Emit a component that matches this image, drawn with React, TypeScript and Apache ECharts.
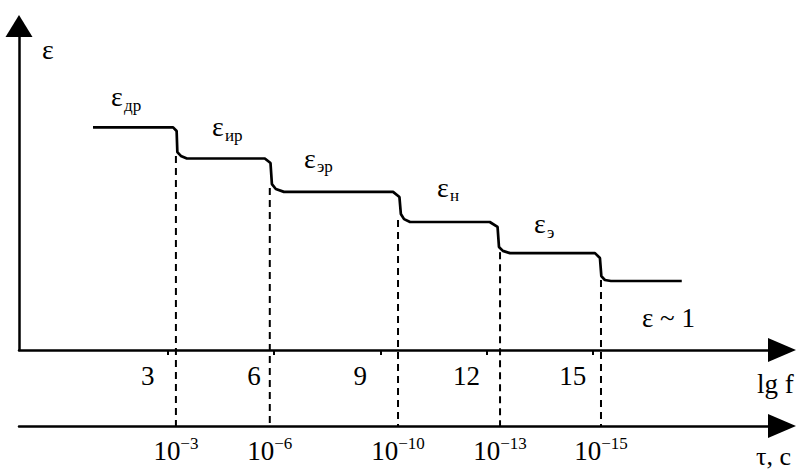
import React, { useEffect, useRef } from "react";
import * as echarts from "echarts";

// lg f axis tick values
const lgTicks = [3, 6, 9, 12, 15];
// relaxation boundaries (lg f positions of dashed lines) and τ labels
const tauPositions = [3.23, 5.88, 9.5, 12.38, 15.23];
const tauExponents = ["−3", "−6", "−10", "−13", "−15"];
// ε(lg f) step curve
const curveLg = [0.89, 3.15, 3.25, 3.27, 3.37, 3.54, 5.74, 5.9, 5.94, 6.05, 6.28, 9.36, 9.54, 9.58, 9.67, 9.84, 12.09, 12.31, 12.35, 12.46, 12.66, 15.06, 15.2, 15.24, 15.34, 15.51, 17.51];
const curveEps = [6.87, 6.87, 6.76, 6.11, 5.99, 5.91, 5.91, 5.77, 5.12, 4.97, 4.88, 4.88, 4.72, 4.2, 4.04, 3.95, 3.95, 3.8, 3.18, 3.06, 2.99, 2.99, 2.84, 2.28, 2.16, 2.13, 2.13];
// ε where each dashed line starts (bottom of each step)
const dashTopEps = [5.99, 5.0, 4.01, 3.02, 2.16];

const SERIF = '"Liberation Serif", "Times New Roman", serif';
const TAU_AXIS_EPS = -2.35;

function txt(text: string, x: number, baseline: number, fs: number) {
  return {
    type: "text",
    x,
    y: baseline - 0.3375 * fs,
    z: 10,
    style: {
      text,
      fontSize: fs,
      fontFamily: SERIF,
      fill: "#000",
      textAlign: "left",
      textVerticalAlign: "middle",
    },
  };
}

export default function App() {
  const ref = useRef<HTMLDivElement>(null);
  useEffect(() => {
    if (!ref.current) return;
    const chart = echarts.init(ref.current, undefined, { renderer: "svg" });
    const curve = curveLg.map((x, i) => [x, curveEps[i]]);
    const dashSeries = tauPositions.map((x, i) => ({
      type: "line",
      data: [
        [x, dashTopEps[i]],
        [x, TAU_AXIS_EPS],
      ],
      symbol: "none",
      clip: false,
      lineStyle: { color: "#000", width: 2, type: [7, 5] },
      z: 3,
    }));
    const xBase = {
      type: "value",
      min: -1.2,
      max: 20.34,
      position: "bottom",
      splitLine: { show: false },
    };
    const option: any = {
      animation: false,
      grid: { left: 19, right: 17, top: 26, bottom: 124, containLabel: false },
      xAxis: [
        {
          ...xBase,
          axisLine: {
            onZero: false,
            symbol: ["none", "triangle"],
            symbolSize: [24, 28],
            lineStyle: { color: "#000", width: 2.5 },
          },
          axisTick: { show: true, customValues: lgTicks, length: 5, lineStyle: { color: "#000", width: 2 } },
          axisLabel: {
            customValues: lgTicks,
            formatter: (v: number) => String(v),
            fontSize: 27,
            fontFamily: SERIF,
            color: "#000",
            margin: 12,
            padding: [0, 40, 0, 0],
          },
        },
        {
          ...xBase,
          offset: 76,
          axisLine: {
            onZero: false,
            symbol: ["none", "triangle"],
            symbolSize: [24, 28],
            lineStyle: { color: "#000", width: 2.5 },
          },
          axisTick: { show: false },
          axisLabel: {
            customValues: tauPositions,
            margin: 9,
            formatter: (v: number) => {
              let best = 0;
              tauPositions.forEach((p, i) => {
                if (Math.abs(p - v) < Math.abs(tauPositions[best] - v)) best = i;
              });
              return "{b|10}{s|" + tauExponents[best] + "}";
            },
            rich: {
              b: { fontSize: 27, fontFamily: SERIF, color: "#000", lineHeight: 32 },
              s: { fontSize: 17, fontFamily: SERIF, color: "#000", lineHeight: 17, verticalAlign: "top" },
            },
          },
        },
      ],
      yAxis: {
        type: "value",
        min: 0,
        max: 10,
        axisLine: {
          show: true,
          onZero: false,
          symbol: ["none", "triangle"],
          symbolSize: [27, 22],
          lineStyle: { color: "#000", width: 2.5 },
        },
        axisTick: { show: false },
        axisLabel: { show: false },
        splitLine: { show: false },
      },
      graphic: [
        txt("ε", 42, 59, 28),
        txt("ε", 111, 106, 28),
        txt("др", 124, 111, 17),
        txt("ε", 212, 136, 28),
        txt("ир", 225, 141, 17),
        txt("ε", 304, 168, 28),
        txt("эр", 317, 172, 17),
        txt("ε", 437, 197, 28),
        txt("н", 450, 201, 17),
        txt("ε", 534, 233, 28),
        txt("э", 547, 238, 17),
        txt("ε ~ 1", 642, 327, 27),
        txt("lg f", 757, 393, 27),
        txt("τ, c", 756, 465, 26),
      ],
      series: [
        {
          type: "line",
          data: curve,
          symbol: "none",
          lineStyle: { color: "#000", width: 2.7 },
          z: 4,
        },
        ...dashSeries,
      ],
    };
    chart.setOption(option);
    return () => chart.dispose();
  }, []);
  return (
    <div
      ref={ref}
      style={{ position: "absolute", left: 0, top: 0, width: 799, height: 474, background: "#fff" }}
    />
  );
}
